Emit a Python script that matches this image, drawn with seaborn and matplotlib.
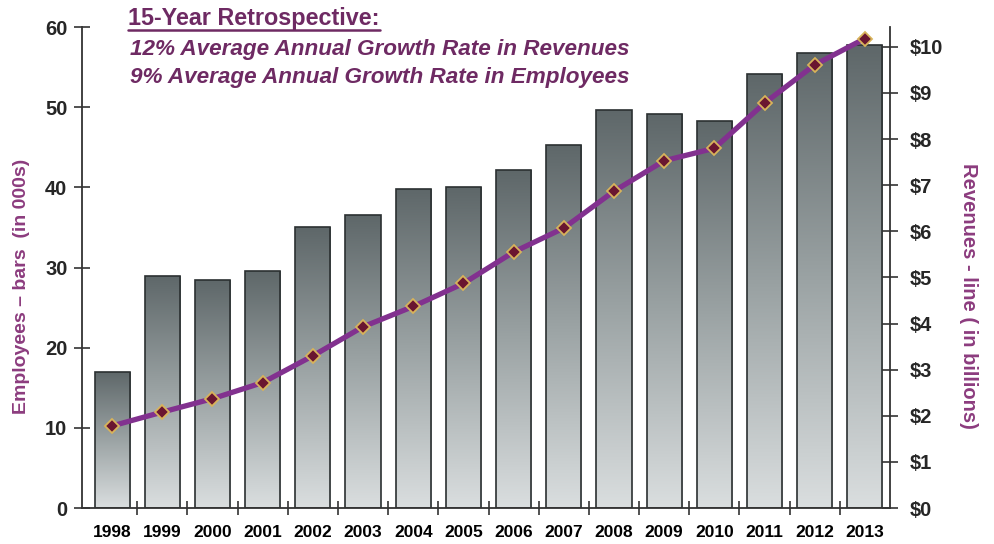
import numpy as np
import pandas as pd
import matplotlib
matplotlib.use("Agg")
import matplotlib.pyplot as plt
import seaborn as sns
from matplotlib.colors import LinearSegmentedColormap
from matplotlib.lines import Line2D

years = ["1998", "1999", "2000", "2001", "2002", "2003", "2004", "2005",
         "2006", "2007", "2008", "2009", "2010", "2011", "2012", "2013"]
employees = [17.0, 29.0, 28.5, 29.6, 35.0, 36.6, 39.8, 40.0,
             42.1, 45.3, 49.7, 49.1, 48.3, 54.1, 56.8, 57.7]
revenues = [1.78, 2.08, 2.37, 2.72, 3.30, 3.93, 4.37, 4.87,
            5.55, 6.07, 6.87, 7.53, 7.80, 8.78, 9.61, 10.18]
left_ticks = [0, 10, 20, 30, 40, 50, 60]
right_ticks = list(range(0, 11))
right_labels = [f"${v}" for v in right_ticks]

title = "15-Year Retrospective:"
sub1 = "12% Average Annual Growth Rate in Revenues"
sub2 = "9% Average Annual Growth Rate in Employees"
left_label = "Employees \u2013 bars  (in 000s)"
right_label = "Revenues - line ( in billions)"

sns.set_theme(style="white")
plt.rcParams["font.family"] = ["Liberation Sans", "DejaVu Sans"]

purple_line = "#82318f"
purple_text = "#6e2a63"
label_purple = "#8c3c7e"
maroon = "#6a1630"
gold = "#d8b35a"

df = pd.DataFrame({"year": years, "employees": employees, "revenues": revenues})

fig = plt.figure(figsize=(9.95, 5.44), dpi=100)
ax = fig.add_axes([82 / 995, 1 - 508 / 544, (890 - 82) / 995, (508 - 27) / 544])

sns.barplot(data=df, x="year", y="employees", ax=ax, width=0.7,
            color="#8a9293", edgecolor="#2b3031", linewidth=1.2, zorder=2)

cmap = LinearSegmentedColormap.from_list("g", ["#dadedf", "#9ba3a4", "#5e6769"])
grad = np.linspace(0, 1, 256).reshape(-1, 1)
for p in list(ax.patches):
    x, y = p.get_x(), p.get_y()
    w, h = p.get_width(), p.get_height()
    im = ax.imshow(grad, extent=[x, x + w, y, y + h], origin="lower",
                   aspect="auto", cmap=cmap, zorder=1.9, interpolation="bicubic")
    im.set_clip_path(p)
    p.set_facecolor("none")

ax.set_xlim(-0.6, 15.5)
ax.set_ylim(0, 60)
ax.set_yticks(left_ticks)
ax.set_yticklabels([str(t) for t in left_ticks], fontsize=14.5, fontweight="bold")
ax.set_xticks(range(len(years)))
ax.set_xticklabels(years, fontsize=12.5, fontweight="bold")
ax.set_xticks(np.arange(0.5, 15.5, 1.0), minor=True)
ax.tick_params(axis="x", which="major", length=0, pad=12, colors="black")
ax.tick_params(axis="x", which="minor", length=10, direction="inout",
               width=1.2, color="#333333", bottom=True)
ax.tick_params(axis="y", which="major", length=11, direction="inout",
               width=1.2, color="#333333", pad=5, left=True)
for s in ["top", "right"]:
    ax.spines[s].set_visible(False)
for s in ["left", "bottom"]:
    ax.spines[s].set_color("#333333")
    ax.spines[s].set_linewidth(1.3)
ax.set_xlabel("")
ax.set_ylabel(left_label, color=label_purple, fontsize=14, fontweight="bold")
ax.yaxis.set_label_coords(-0.064, 0.46)

ax2 = ax.twinx()
sns.pointplot(data=df, x="year", y="revenues", ax=ax2, color=purple_line,
              markers="D", errorbar=None, linewidth=3.8, zorder=5)
for ln in ax2.lines:
    ln.set_markerfacecolor(maroon)
    ln.set_markeredgecolor(gold)
    ln.set_markersize(7)
    ln.set_markeredgewidth(1.3)
ax2.set_xlim(-0.6, 15.5)
ax2.set_ylim(0, 10.43)
ax2.set_yticks(right_ticks)
ax2.set_yticklabels(right_labels, fontsize=14.5, fontweight="bold")
ax2.tick_params(axis="y", which="major", length=11, direction="inout",
                width=1.2, color="#333333", pad=9, right=True)
for s in ["top", "left", "bottom"]:
    ax2.spines[s].set_visible(False)
ax2.spines["right"].set_color("#333333")
ax2.spines["right"].set_linewidth(1.3)
ax2.set_xlabel("")
ax2.set_ylabel(right_label, color=label_purple, fontsize=14.5, fontweight="bold",
               rotation=-90, va="center")
ax2.yaxis.set_label_coords(1.097, 0.44)
ax2.grid(False)
ax.grid(False)

t = fig.text(128 / 995, 1 - 18 / 544, title, fontsize=16.8, fontweight="bold",
             color=purple_text, va="center", ha="left")
fig.text(130 / 995, 1 - 50 / 544, sub1, fontsize=16.2, fontweight="bold",
         style="italic", color=purple_text, va="center", ha="left")
fig.text(130 / 995, 1 - 78 / 544, sub2, fontsize=16.2, fontweight="bold",
         style="italic", color=purple_text, va="center", ha="left")

fig.canvas.draw()
bb = t.get_window_extent().transformed(fig.transFigure.inverted())
fig.add_artist(Line2D([bb.x0, bb.x1], [bb.y0 - 0.001, bb.y0 - 0.001],
                      transform=fig.transFigure, color=purple_text, linewidth=1.8))

fig.savefig("out.png", dpi=100)
